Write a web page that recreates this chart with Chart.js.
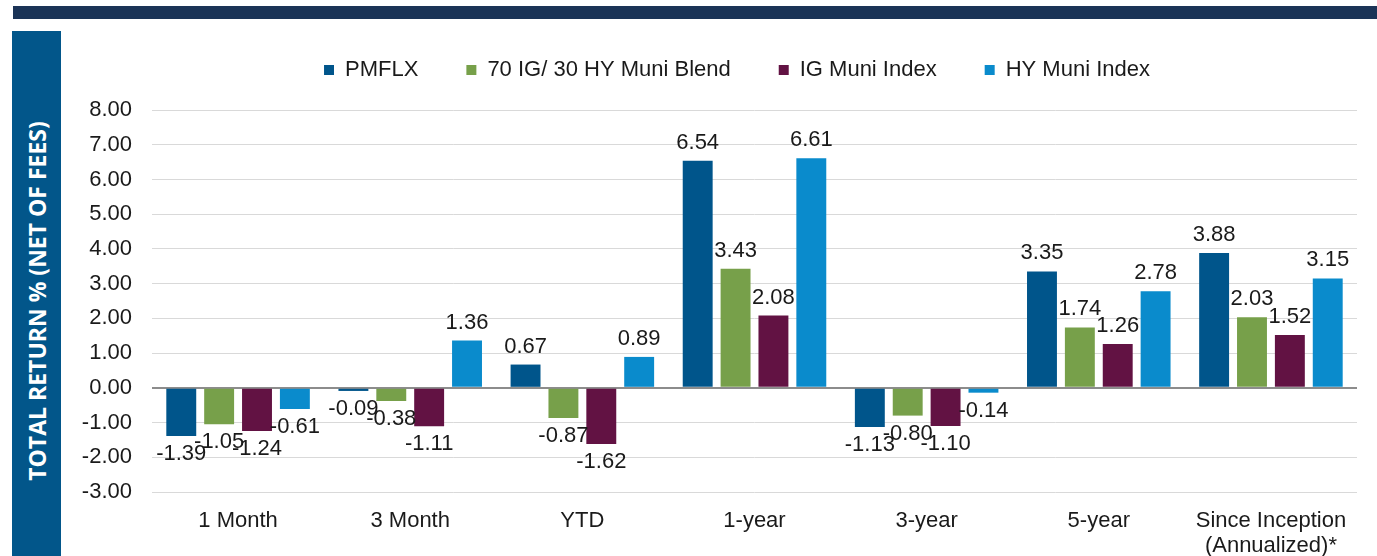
<!DOCTYPE html>
<html>
<head>
<meta charset="utf-8">
<script src="https://cdn.jsdelivr.net/npm/chart.js@4"></script>
<style>
  html, body { margin: 0; padding: 0; background: #fff; overflow: hidden; }
  body { width: 1377px; height: 556px; position: relative; }
  #topBar { position: absolute; left: 13px; right: 0; top: 6px; height: 13px; background: #1b3457; }
  #sideBar { position: absolute; left: 12px; top: 31px; width: 49px; height: 525px; background: #02568a; }
  #sideTitle {
    position: absolute; left: 37px; top: 301px; transform: translate(-50%, -50%) rotate(-90deg);
    white-space: nowrap; color: #fff; font: bold 23px "Open Sans", sans-serif;
  }
  #wrap { position: absolute; left: 80px; top: 11px; width: 1314px; height: 545px; }
</style>
</head>
<body>
<div id="topBar"></div>
<div id="sideBar"></div>
<div id="sideTitle">TOTAL RETURN % (NET OF FEES)</div>
<div id="wrap"><canvas id="myChart"></canvas></div>
<script>
const categories = ["1 Month", "3 Month", "YTD", "1-year", "3-year", "5-year", ["Since Inception", "(Annualized)*"]];
const seriesNames = ["PMFLX", "70 IG/ 30 HY Muni Blend", "IG Muni Index", "HY Muni Index"];
const pmflx = [-1.39, -0.09, 0.67, 6.54, -1.13, 3.35, 3.88];
const blend = [-1.05, -0.38, -0.87, 3.43, -0.80, 1.74, 2.03];
const igMuni = [-1.24, -1.11, -1.62, 2.08, -1.10, 1.26, 1.52];
const hyMuni = [-0.61, 1.36, 0.89, 6.61, -0.14, 2.78, 3.15];
const colors = ["#00558b", "#77a04a", "#621243", "#0a8bcc"];

const FONT = "'Liberation Sans', Arial, sans-serif";

// push the plot down below the legend
const legendSpace = {
  id: "legendSpace",
  beforeInit(chart) {
    const legend = chart.legend;
    if (!legend) return;
    const fit = legend.fit;
    legend.fit = function () {
      fit.call(this);
      this.height = 99;
    };
  },
};

// value labels at the end of each bar
const barValues = {
  id: "barValues",
  afterDatasetsDraw(chart) {
    const ctx = chart.ctx;
    ctx.save();
    ctx.font = "22px " + FONT;
    ctx.fillStyle = "#1a1a1a";
    ctx.textAlign = "center";
    ctx.textBaseline = "alphabetic";
    chart.data.datasets.forEach((ds, i) => {
      chart.getDatasetMeta(i).data.forEach((bar, j) => {
        const v = ds.data[j];
        const y = v >= 0 ? bar.y - 12 : bar.y + 24;
        ctx.fillText(v.toFixed(2), bar.x, y);
      });
    });
    ctx.restore();
  },
};

const config = {
  type: "bar",
  data: {
    labels: categories,
    datasets: [pmflx, blend, igMuni, hyMuni].map((d, i) => ({
      label: seriesNames[i],
      data: d,
      backgroundColor: colors[i],
      borderWidth: 0,
      categoryPercentage: 0.88,
      barPercentage: 0.79,
    })),
  },
  options: {
    responsive: true,
    maintainAspectRatio: false,
    animation: false,
    layout: { padding: 0 },
    plugins: {
      tooltip: { enabled: false },
      legend: {
        position: "top",
        labels: {
          boxWidth: 10,
          boxHeight: 10,
          padding: 48,
          color: "#1a1a1a",
          font: { family: FONT, size: 22 },
        },
      },
    },
    scales: {
      x: {
        grid: { display: false, drawTicks: false },
        border: { display: false },
        ticks: {
          color: "#1a1a1a",
          font: { family: FONT, size: 22, lineHeight: 1.15 },
          padding: 16,
          maxRotation: 0,
          autoSkip: false,
        },
        afterFit(scale) { scale.height = 64; },
      },
      y: {
        min: -3,
        max: 8,
        grid: {
          drawTicks: false,
          color: (c) => (c.tick && c.tick.value === 0 ? "#8c8c8c" : "#d9d9d9"),
          lineWidth: (c) => (c.tick && c.tick.value === 0 ? 2 : 1),
        },
        border: { display: false },
        ticks: {
          stepSize: 1,
          padding: 20,
          color: "#1a1a1a",
          font: { family: FONT, size: 22 },
          callback: (v) => Number(v).toFixed(2),
        },
        afterFit(scale) { scale.width = 72; },
      },
      // empty right axis, only keeps a margin on the right
      yRight: {
        position: "right",
        grid: { display: false, drawTicks: false },
        border: { display: false },
        ticks: { display: false },
        afterFit(scale) { scale.width = 37; },
      },
    },
  },
  plugins: [legendSpace, barValues],
};

new Chart(document.getElementById("myChart").getContext("2d"), config);
</script>
</body>
</html>
